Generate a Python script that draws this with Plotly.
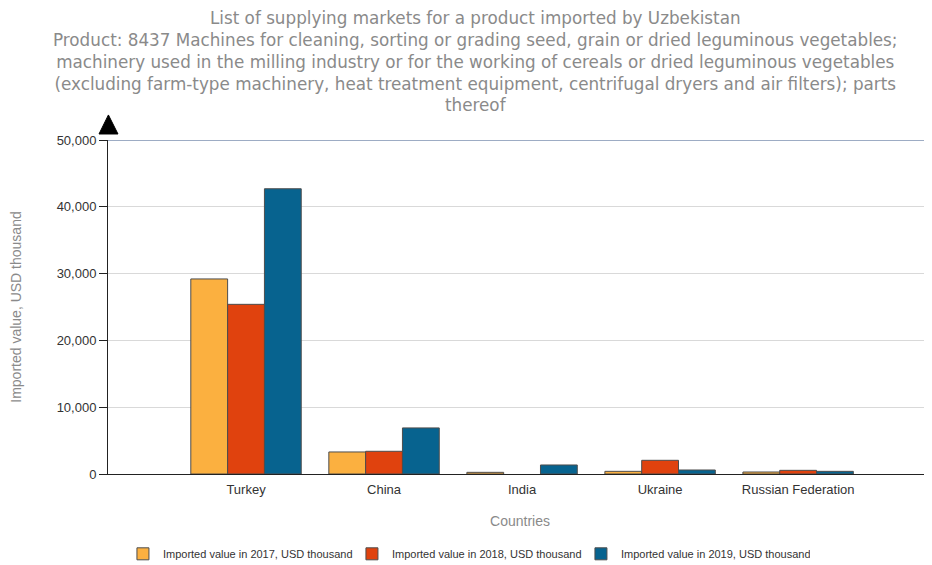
import plotly.graph_objects as go

countries = ["Turkey", "China", "India", "Ukraine", "Russian Federation"]
v2017 = [29200, 3300, 250, 400, 300]
v2018 = [25400, 3400, None, 2050, 550]
v2019 = [42700, 6900, 1350, 600, 400]
series_names = ["Imported value in 2017, USD thousand",
                "Imported value in 2018, USD thousand",
                "Imported value in 2019, USD thousand"]
colors = ["#FBB040", "#E0420E", "#07638F"]
yticks = [0, 10000, 20000, 30000, 40000, 50000]

fig = go.Figure()
for name, vals, c in zip(series_names, [v2017, v2018, v2019], colors):
    fig.add_trace(go.Bar(x=countries, y=vals, name=name, marker=dict(color=c, line=dict(color="#4d4d4d", width=1))))

title_text = ("List of supplying markets for a product imported by Uzbekistan<br>"
              "Product: 8437 Machines for cleaning, sorting or grading seed, grain or dried leguminous vegetables;<br>"
              "machinery used in the milling industry or for the working of cereals or dried leguminous vegetables<br>"
              "(excluding farm-type machinery, heat treatment equipment, centrifugal dryers and air filters); parts<br>"
              "thereof")

fig.update_layout(
    width=924, height=557,
    paper_bgcolor="white", plot_bgcolor="white",
    margin=dict(l=100, r=0, t=132, b=91, autoexpand=False),
    barmode="group", bargap=0.2, bargroupgap=0,
    font=dict(family="Liberation Sans", size=12, color="#333333"),
    xaxis=dict(range=[-1.0, 4.97], showgrid=False, showline=True, linecolor="#222222", linewidth=1,
               ticks="", tickfont=dict(size=13, color="#333333"), automargin=False, ticklabelstandoff=3,
               title=dict(text="Countries", font=dict(size=14, color="#8a8a8a"), standoff=20)),
    yaxis=dict(range=[0, 50000], tickvals=yticks, tickformat=",", showgrid=True, gridcolor="#d9d9d9",
               showline=True, linecolor="#222222", linewidth=1, ticks="outside", ticklen=8, tickcolor="#222222",
               zeroline=False, tickfont=dict(size=13, color="#333333"), automargin=False,
               title=dict(text="Imported value, USD thousand", font=dict(size=14, color="#8a8a8a"), standoff=45)),
    legend=dict(orientation="h", x=0.435, xanchor="center", y=-0.239, yanchor="middle",
                font=dict(family="Liberation Sans", size=11, color="#333333"), itemwidth=30,
                entrywidth=184, entrywidthmode="pixels"),
    annotations=[dict(text=title_text, xref="paper", yref="paper", x=0.4466, y=1.40,
                      xanchor="center", yanchor="top", showarrow=False, align="center",
                      font=dict(family="DejaVu Sans", size=16.8, color="#8a8a8a"))],
    shapes=[
        dict(type="line", xref="paper", yref="y", x0=0, x1=1, y0=50000, y1=50000,
             line=dict(color="#3d5a8a", width=1)),
        dict(type="path", xref="paper", yref="paper",
             path="M -0.0109,1.018 L 0.0121,1.018 L 0.0005,1.075 Z",
             fillcolor="black", line=dict(color="black", width=1)),
    ],
)

fig.write_html("out.html")
